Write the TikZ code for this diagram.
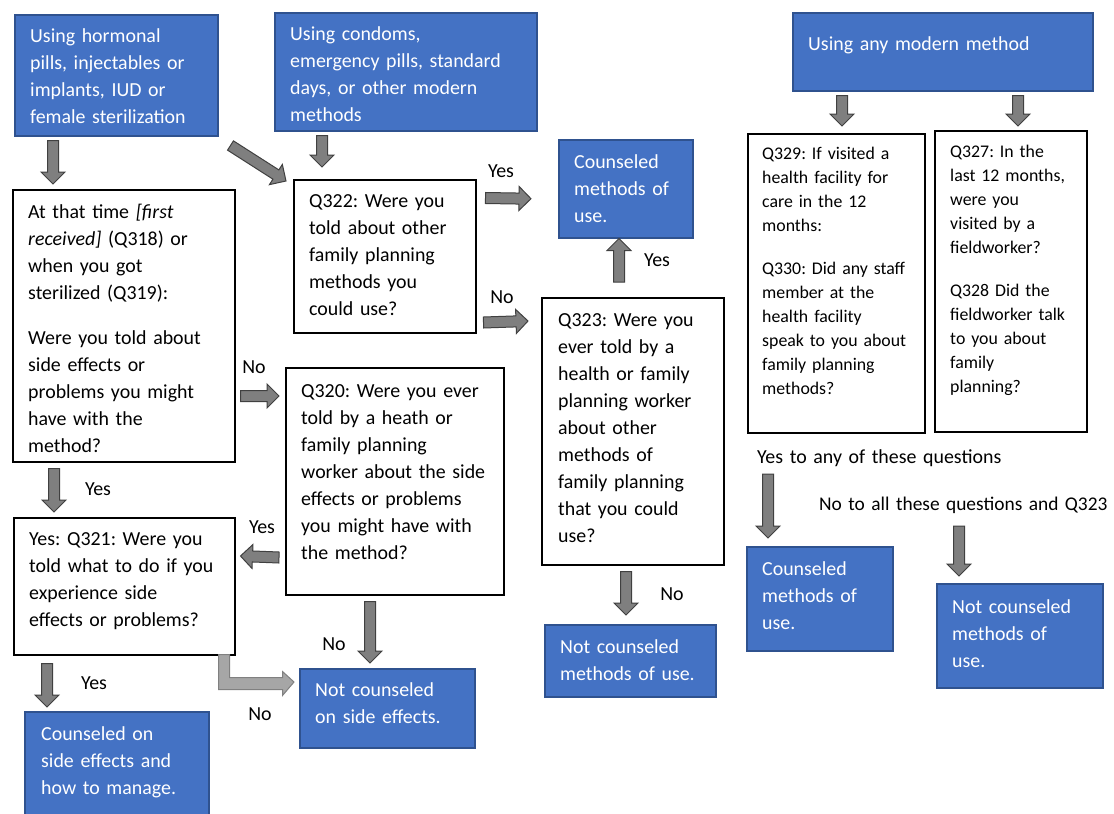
\documentclass[tikz,border=0pt]{standalone}
\usepackage{fontspec}
\setmainfont{Carlito}
\usetikzlibrary{calc}
\definecolor{boxblue}{HTML}{4472C4}
\definecolor{boxedge}{HTML}{2F528F}
\definecolor{arrfill}{HTML}{7F7F7F}
\definecolor{arredge}{HTML}{404040}
\definecolor{lightarr}{HTML}{A6A6A6}
\definecolor{lightedge}{HTML}{808080}
\tikzset{
  bluebox/.style={rectangle, fill=boxblue, draw=boxedge, line width=1.5pt, inner sep=0pt, anchor=north west},
  whitebox/.style={rectangle, fill=white, draw=black, line width=1.5pt, inner sep=0pt, anchor=north west},
  maintxt/.style={anchor=base west, inner sep=0pt, text width=420pt, align=left, font=\fontsize{19.9}{27}\selectfont\frenchspacing},
  smalltxt/.style={anchor=base west, inner sep=0pt, text width=200pt, align=left, font=\fontsize{17.8}{24}\selectfont\frenchspacing},
  wtxt/.style={maintxt, text=white},
  lbl/.style={anchor=base, inner sep=0pt, font=\fontsize{19.9}{27}\selectfont},
  barrowst/.style={fill=arrfill, draw=arredge, line width=1pt, line join=miter},
  lightarrowst/.style={fill=lightarr, draw=lightedge, line width=1pt, line join=miter},
}
\newcommand\blockarrow[3][]{%
  \coordinate (bh) at ($(#3)!12pt!(#2)$);
  \filldraw[barrowst,#1] ($(#2)!5.5pt!90:(#3)$) -- ($(bh)!5.5pt!-90:(#2)$) -- ($(bh)!12pt!-90:(#2)$) -- (#3) -- ($(bh)!12pt!90:(#2)$) -- ($(bh)!5.5pt!90:(#2)$) -- ($(#2)!5.5pt!-90:(#3)$) -- cycle;
}
\begin{document}
\frenchspacing
\begin{tikzpicture}[x=1pt,y=-1pt]
\useasboundingbox[fill=white] (0,0) rectangle (1114,814);

% blue boxes
\node[bluebox, minimum width=203pt, minimum height=121pt] (b1) at (14,14) {};
\node[bluebox, minimum width=262pt, minimum height=118pt] (b2) at (274,12) {};
\node[bluebox, minimum width=300pt, minimum height=78pt] (b3) at (792,12) {};
\node[bluebox, minimum width=134pt, minimum height=98pt] (b4) at (558,139) {};
\node[bluebox, minimum width=175pt, minimum height=79pt] (b5) at (299,668) {};
\node[bluebox, minimum width=184pt, minimum height=106pt] (b6) at (24,711) {};
\node[bluebox, minimum width=171pt, minimum height=72pt] (b7) at (544,624) {};
\node[bluebox, minimum width=146pt, minimum height=104pt] (b8) at (746,546) {};
\node[bluebox, minimum width=166pt, minimum height=104pt] (b9) at (936,583) {};

% white boxes
\node[whitebox, minimum width=222pt, minimum height=272pt] (w1) at (12,189) {};
\node[whitebox, minimum width=182pt, minimum height=153pt] (w2) at (293,179) {};
\node[whitebox, minimum width=218pt, minimum height=227pt] (w3) at (285,367) {};
\node[whitebox, minimum width=221pt, minimum height=137pt] (w4) at (13,517) {};
\node[whitebox, minimum width=182pt, minimum height=267pt] (w5) at (541,297) {};
\node[whitebox, minimum width=177pt, minimum height=299pt] (w6) at (747,133) {};
\node[whitebox, minimum width=152pt, minimum height=301pt] (w7) at (934,130) {};

% texts in blue boxes
\node[wtxt] (b1t) at (30,42) {Using hormonal\\pills, injectables or\\implants, IUD or\\female sterilization};
\node[wtxt] (b2t) at (290,40) {Using condoms,\\emergency pills, standard\\days, or other modern\\methods};
\node[wtxt] (b3t) at (808,50) {Using any modern method};
\node[wtxt] (b4t) at (574,168) {Counseled\\methods of\\use.};
\node[wtxt] (b5t) at (315,696) {Not counseled\\on side effects.};
\node[wtxt] (b6t) at (41,740) {Counseled on\\side effects and\\how to manage.};
\node[wtxt] (b7t) at (560,653) {Not counseled\\methods of use.};
\node[wtxt] (b8t) at (762,575) {Counseled\\methods of\\use.};
\node[wtxt] (b9t) at (952,613) {Not counseled\\methods of\\use.};

% texts in white boxes
\node[maintxt] (w1t) at (28,218) {At that time \textit{[first}\\\textit{received]} (Q318) or\\when you got\\sterilized (Q319):\\[18pt]Were you told about\\side effects or\\problems you might\\have with the\\method?};
\node[maintxt] (w2t) at (309,207) {Q322: Were you\\told about other\\family planning\\methods you\\could use?};
\node[maintxt] (w3t) at (301,397) {Q320: Were you ever\\told by a heath or\\family planning\\worker about the side\\effects or problems\\you might have with\\the method?};
\node[maintxt] (w4t) at (29,545) {Yes: Q321: Were you\\told what to do if you\\experience side\\effects or problems?};
\node[maintxt] (w5t) at (558,326) {Q323: Were you\\ever told by a\\health or family\\planning worker\\about other\\methods of\\family planning\\that you could\\use?};
\node[smalltxt] (w6t) at (762,159) {Q329: If visited a\\health facility for\\care in the 12\\months:\\[19pt]Q330: Did any staff\\member at the\\health facility\\speak to you about\\family planning\\methods?};
\node[smalltxt] (w7t) at (950,157) {Q327: In the\\last 12 months,\\were you\\visited by a\\fieldworker?\\[19pt]Q328 Did the\\fieldworker talk\\to you about\\family\\planning?};

% free texts
\node[maintxt] (yesany) at (757,463) {Yes to any of these questions};
\node[maintxt, font=\fontsize{19.4}{27}\selectfont] (noall) at (819,510) {No to all these questions and Q323};

% labels
\node[lbl] (l4) at (501,177) {Yes};
\node[lbl] (l5) at (502,303) {No};
\node[lbl] (l6) at (657,266) {Yes};
\node[lbl] (l7) at (254,373) {No};
\node[lbl] (l8) at (98,495) {Yes};
\node[lbl] (l9) at (262,533) {Yes};
\node[lbl] (l10) at (334,650) {No};
\node[lbl] (l11) at (260,720) {No};
\node[lbl] (l12) at (94,689) {Yes};
\node[lbl] (l13) at (672,600) {No};

% arrow end points
\coordinate (a1s) at ($(b1.south west)+(39,4)$);
\coordinate (a1e) at ($(w1.north west)+(41,-5)$);
\coordinate (a2s) at ($(b1.south east)+(12,9)$);
\coordinate (a2e) at ($(w2.north west)+(-7,2)$);
\coordinate (a3s) at ($(b2.south west)+(48,4)$);
\coordinate (a3e) at ($(w2.north west)+(29,-12)$);
\coordinate (a4s) at ($(w2.north east)+(9,19)$);
\coordinate (a4e) at ($(b4.west)+(-27,10)$);
\coordinate (a5s) at ($(w2.south east)+(7,-11)$);
\coordinate (a5e) at ($(w5.north west)+(-13,24)$);
\coordinate (a6s) at ($(w5.north west)+(78,-15)$);
\coordinate (a6e) at ($(b4.south west)+(61,0)$);
\coordinate (a7s) at ($(w1.north east)+(5,207)$);
\coordinate (a7e) at ($(w3.north west)+(-6,29)$);
\coordinate (a8s) at ($(w1.south west)+(42,6)$);
\coordinate (a8e) at ($(w4.north west)+(41,-5)$);
\coordinate (a9s) at ($(w3.south west)+(-6,-38)$);
\coordinate (a9e) at ($(w4.north east)+(5,39)$);
\coordinate (a10s) at ($(w3.south west)+(85,6)$);
\coordinate (a10e) at ($(b5.north west)+(71,-5)$);
\coordinate (a12s) at ($(w4.south west)+(34,8)$);
\coordinate (a12e) at ($(b6.north west)+(23,-4)$);
\coordinate (a13s) at ($(w5.south west)+(85,6)$);
\coordinate (a13e) at ($(b7.north west)+(82,-9)$);
\coordinate (a14s) at ($(b3.south west)+(50,4)$);
\coordinate (a14e) at ($(w6.north west)+(95,-7)$);
\coordinate (a15s) at ($(b3.south west)+(226,4)$);
\coordinate (a15e) at ($(w7.north west)+(84,-4)$);
\coordinate (a16s) at ($(yesany.base west)+(11,11)$);
\coordinate (a16e) at ($(b8.north west)+(22,-8)$);
\coordinate (a17s) at ($(noall.base west)+(140,16)$);
\coordinate (a17e) at ($(b9.north west)+(23,-7)$);
\coordinate (a11e) at ($(b5.north west)+(-5,14)$);

% block arrows
\blockarrow{a1s}{a1e}
\blockarrow{a2s}{a2e}
\blockarrow{a3s}{a3e}
\blockarrow{a4s}{a4e}
\blockarrow{a5s}{a5e}
\blockarrow{a6s}{a6e}
\blockarrow{a7s}{a7e}
\blockarrow{a8s}{a8e}
\blockarrow{a9s}{a9e}
\blockarrow{a10s}{a10e}
\blockarrow{a12s}{a12e}
\blockarrow{a13s}{a13e}
\blockarrow{a14s}{a14e}
\blockarrow{a15s}{a15e}
\blockarrow{a16s}{a16e}
\blockarrow{a17s}{a17e}

% elbow arrow from Q321 to "Not counseled on side effects"
\filldraw[lightarrowst] ($(w4.south east)+(-17,-1)$) -- ($(w4.south east)+(-17,34)$) -- ($(w4.south east)+(47,34)$) -- ($(w4.south east)+(47,40)$) -- (a11e) -- ($(w4.south east)+(47,16)$) -- ($(w4.south east)+(47,22)$) -- ($(w4.south east)+(-6,22)$) -- ($(w4.south east)+(-6,-1)$) -- cycle;
\end{tikzpicture}
\end{document}
